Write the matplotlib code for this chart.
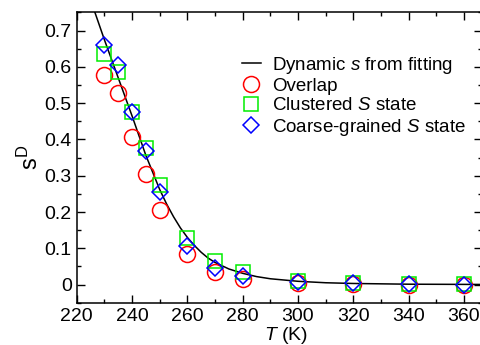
import matplotlib
matplotlib.use("Agg")
import matplotlib.pyplot as plt
from matplotlib.ticker import MultipleLocator

plt.rcParams['font.family'] = ['Liberation Sans', 'DejaVu Sans']
plt.rcParams['mathtext.fontset'] = 'custom'
plt.rcParams['mathtext.rm'] = 'Liberation Sans'
plt.rcParams['mathtext.it'] = 'Liberation Sans:italic'

# Temperatures (K) of the simulations
temps = [230, 235, 240, 245, 250, 260, 270, 280, 300, 320, 340, 360]

# s^D estimated by the three approaches
overlap = [0.578, 0.527, 0.408, 0.306, 0.206, 0.084, 0.034, 0.014, 0.003, 0.001, 0.0, 0.0]
clustered = [0.636, 0.587, 0.477, 0.376, 0.275, 0.128, 0.064, 0.035, 0.011, 0.005, 0.002, 0.001]
coarse = [0.661, 0.606, 0.477, 0.367, 0.255, 0.107, 0.045, 0.023, 0.006, 0.003, 0.001, 0.0]

# Fitted dynamic s curve
fit_T = [226.5, 230, 235, 240, 245, 250, 252.5, 255, 257.5, 260, 262.5, 265, 267.5,
         270, 275, 280, 285, 290, 300, 310, 320, 340, 367]
fit_s = [0.752, 0.675, 0.570, 0.465, 0.356, 0.262, 0.222, 0.187, 0.156, 0.130, 0.108,
         0.089, 0.073, 0.061, 0.043, 0.031, 0.022, 0.016, 0.009, 0.005, 0.003, 0.001, 0.0003]

fig = plt.figure(figsize=(4.81, 3.45), dpi=100)
ax = fig.add_axes([0.1595, 0.1226, 0.8425, 0.8412])

ax.plot(fit_T, fit_s, color='black', lw=1.1, label=r'Dynamic $s$ from fitting', zorder=2)
ax.plot(temps, overlap, 'o', ms=11.5, mfc='none', mec='#ff0000', mew=1.1, label='Overlap', zorder=3)
ax.plot(temps, clustered, 's', ms=10.5, mfc='none', mec='#00ee00', mew=1.1,
        label=r'Clustered $S$ state', zorder=4)
ax.plot(temps, coarse, 'D', ms=8.2, mfc='none', mec='#0000ff', mew=1.1,
        label=r'Coarse-grained $S$ state', zorder=5)

ax.set_xlim(220, 366.5)
ax.set_ylim(-0.05, 0.75)
ax.xaxis.set_major_locator(MultipleLocator(20))
ax.xaxis.set_minor_locator(MultipleLocator(10))
ax.yaxis.set_major_locator(MultipleLocator(0.1))
ax.yaxis.set_minor_locator(MultipleLocator(0.05))
ax.yaxis.set_major_formatter(plt.FuncFormatter(lambda v, p: '0' if abs(v) < 1e-9 else f'{v:.1f}'))
ax.tick_params(which='both', direction='in', top=True, right=True, labelsize=14, pad=3.5)
ax.tick_params(which='major', length=6, width=1)
ax.tick_params(which='minor', length=3, width=1)
for sp in ax.spines.values():
    sp.set_linewidth(1.1)

ax.set_xlabel(r'$T$ (K)', fontsize=14)
ax.xaxis.set_label_coords(0.517, -0.077)
ax.set_ylabel(r'$\mathrm{s}^{\mathrm{D}}$', fontsize=17)
ax.yaxis.set_label_coords(-0.083, 0.5)

ax.legend(loc='upper left', bbox_to_anchor=(0.375, 0.90), frameon=False, fontsize=13.5,
          handlelength=1.0, handletextpad=0.6, labelspacing=0.12, borderpad=0.2)

fig.savefig('out.png', dpi=100)
